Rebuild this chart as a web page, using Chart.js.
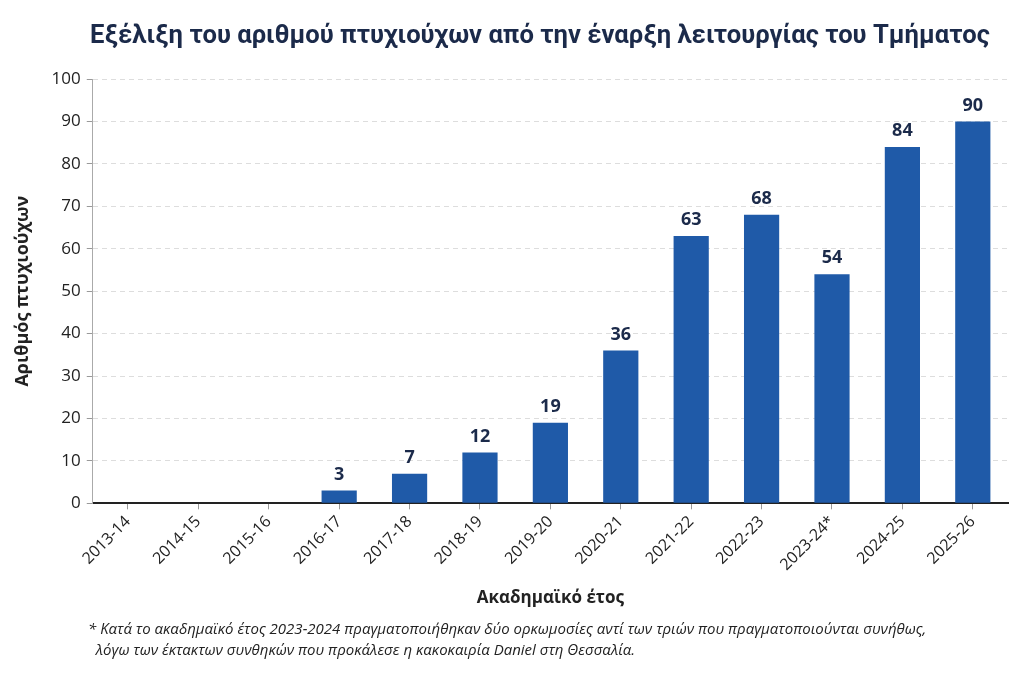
<!DOCTYPE html>
<html>
<head>
<meta charset="utf-8">
<script src="https://cdn.jsdelivr.net/npm/chart.js@4/dist/chart.umd.min.js"></script>
<style>
  html, body { margin: 0; padding: 0; background: #fff; }
  #wrap { position: relative; width: 1024px; height: 683px; }
  #title {
    position: absolute; left: 0; width: 1080px; top: 19px; text-align: center;
    font-family: Roboto, sans-serif; font-weight: bold; font-size: 25.6px; color: #1b2a4a;
  }
  #note {
    position: absolute; left: 88px; top: 618px;
    font-family: "Open Sans", "Noto Sans", sans-serif; font-style: italic;
    font-size: 15px; line-height: 21px; color: #222;
  }
</style>
</head>
<body>
<div id="wrap">
  <canvas id="bar-chart" width="1024" height="683"></canvas>
  <div id="title">Εξέλιξη του αριθμού πτυχιούχων από την έναρξη λειτουργίας του Τμήματος</div>
  <div id="note">* Κατά το ακαδημαϊκό έτος 2023-2024 πραγματοποιήθηκαν δύο ορκωμοσίες αντί των τριών που πραγματοποιούνται συνήθως,<br>&nbsp;&nbsp;λόγω των έκτακτων συνθηκών που προκάλεσε η κακοκαιρία Daniel στη Θεσσαλία.</div>
</div>
<script>
let years = ["2013-14","2014-15","2015-16","2016-17","2017-18","2018-19","2019-20","2020-21","2021-22","2022-23","2023-24*","2024-25","2025-26"];
let graduates = [0,0,0,3,7,12,19,36,63,68,54,84,90];
let y_ticks = [0,10,20,30,40,50,60,70,80,90,100];

// etiquettes au dessus des barres (valeurs > 0)
const barLabels = {
  id: 'barLabels',
  afterDatasetsDraw(chart) {
    const ctx = chart.ctx;
    const meta = chart.getDatasetMeta(0);
    ctx.save();
    ctx.font = 'bold 18px "Open Sans", sans-serif';
    ctx.fillStyle = '#1b2a4a';
    ctx.textAlign = 'center';
    ctx.textBaseline = 'bottom';
    meta.data.forEach(function (bar, i) {
      if (graduates[i] > 0) ctx.fillText(graduates[i], bar.x, bar.y - 7);
    });
    ctx.restore();
  }
};

var ctx = document.getElementById('bar-chart');
var myChart = new Chart(ctx, {
  type: 'bar',
  data: {
    labels: years,
    datasets: [{
      data: graduates,
      backgroundColor: "#1f5aa8",
      borderWidth: 0,
      categoryPercentage: 1.0,
      barPercentage: 0.5
    }]
  },
  options: {
    responsive: false,
    animation: false,
    layout: { padding: { left: 8, right: 16, top: 79, bottom: 71 } },
    plugins: {
      legend: { display: false },
      tooltip: { enabled: false },
      title: { display: false }
    },
    scales: {
      x: {
        grid: { display: true, drawOnChartArea: false, offset: false, tickLength: 6, color: '#999' },
        border: { display: true, color: '#222', width: 2 },
        ticks: { color: '#222', maxRotation: 45, minRotation: 45, font: { family: '"Open Sans"', size: 16 } },
        title: { display: true, text: "Ακαδημαϊκό έτος", color: '#222', font: { family: '"Open Sans"', size: 17, weight: 'bold' }, padding: { top: 10 } }
      },
      y: {
        min: 0, max: 100,
        afterBuildTicks: function (axis) { axis.ticks = y_ticks.map(v => ({ value: v })); },
        grid: { color: '#dddddd', tickLength: 6, tickColor: '#999', drawTicks: true },
        border: { display: true, color: '#aaa', dash: [5, 4] },
        ticks: { color: '#222', padding: 6, font: { family: '"Open Sans"', size: 17 } },
        title: { display: true, text: "Αριθμός πτυχιούχων", color: '#222', font: { family: '"Open Sans"', size: 18, weight: 'bold' }, padding: { bottom: 12 } }
      }
    }
  },
  plugins: [barLabels]
});
</script>
</body>
</html>
